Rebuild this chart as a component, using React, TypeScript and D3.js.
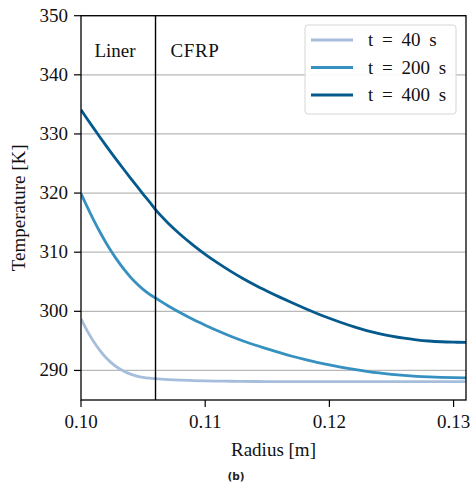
import React from "react";
import * as d3 from "d3";

const radius = [
  0.1, 0.1005, 0.101, 0.1015, 0.102, 0.1025, 0.103, 0.1035, 0.104, 0.1045, 0.105, 0.1055, 0.106,
  0.107, 0.108, 0.109, 0.11, 0.111, 0.112, 0.113, 0.114, 0.115, 0.116, 0.117, 0.118, 0.119, 0.12,
  0.121, 0.122, 0.123, 0.124, 0.125, 0.126, 0.127, 0.128, 0.129, 0.13, 0.131,
];

const temp40 = [
  298.7, 296.7, 294.95, 293.45, 292.2, 291.2, 290.42, 289.82, 289.37, 289.05, 288.83, 288.69, 288.6,
  288.46, 288.36, 288.29, 288.24, 288.2, 288.17, 288.15, 288.13, 288.12, 288.11, 288.11, 288.1, 288.1, 288.1,
  288.1, 288.1, 288.1, 288.1, 288.1, 288.1, 288.1, 288.1, 288.1, 288.1, 288.1,
];

const temp200 = [
  319.9, 317.65, 315.5, 313.5, 311.65, 309.95, 308.4, 307.0, 305.75, 304.65, 303.7, 302.9, 302.25,
  300.95, 299.75, 298.65, 297.65, 296.7, 295.82, 295.02, 294.3, 293.65, 293.0, 292.4, 291.86, 291.37, 290.93,
  290.53, 290.17, 289.85, 289.57, 289.34, 289.15, 289.0, 288.9, 288.83, 288.78, 288.75,
];

const temp400 = [
  334.1, 332.54, 331.02, 329.53, 328.07, 326.64, 325.24, 323.86, 322.5, 321.16, 319.84, 318.54, 317.2,
  314.95, 313.0, 311.25, 309.65, 308.2, 306.85, 305.6, 304.45, 303.4, 302.4, 301.44, 300.52, 299.64, 298.82,
  298.06, 297.36, 296.74, 296.22, 295.8, 295.45, 295.18, 294.98, 294.85, 294.78, 294.75,
];

const seriesLabels = ["t = 40 s", "t = 200 s", "t = 400 s"];
const seriesColors = ["#a6bddb", "#3690c0", "#045a8d"];
const xTicks = [0.1, 0.11, 0.12, 0.13];
const yTicks = [290, 300, 310, 320, 330, 340, 350];
const interfaceRadius = 0.106;
const regionLabels = ["Liner", "CFRP"];

const W = 472;
const H = 487;
const m = { left: 81, right: 466, top: 15.7, bottom: 400 };
const FONT = "'Liberation Serif', serif";
const FS = 19;

export default function App() {
  const x = d3.scaleLinear().domain([0.1, 0.131]).range([m.left, m.right]);
  const y = d3.scaleLinear().domain([285, 350]).range([m.bottom, m.top]);
  const all = [temp40, temp200, temp400];
  const line = d3
    .line<number>()
    .x((_, i) => x(radius[i]))
    .y((d) => y(d))
    .curve(d3.curveMonotoneX);

  const xi = x(interfaceRadius);
  const legX = 305;
  const legY = 25;

  return (
    <svg
      width={W}
      height={H}
      style={{ position: "absolute", left: 0, top: 0, background: "#fff" }}
      fontFamily={FONT}
    >
      <rect x={0} y={0} width={W} height={H} fill="#fff" />
      <defs>
        <clipPath id="plot">
          <rect x={m.left} y={m.top} width={m.right - m.left} height={m.bottom - m.top} />
        </clipPath>
      </defs>
      {yTicks.map((t) => (
        <line key={t} x1={m.left} x2={m.right} y1={y(t)} y2={y(t)} stroke="#b8b8b8" strokeWidth={1.2} />
      ))}
      <g clipPath="url(#plot)">
        {all.map((s, i) => (
          <path key={i} d={line(s) || ""} fill="none" stroke={seriesColors[i]} strokeWidth={2.8} />
        ))}
      </g>
      <line x1={xi} x2={xi} y1={m.top} y2={m.bottom} stroke="#000" strokeWidth={1.4} />
      <text x={115} y={57} fontSize={FS} textAnchor="middle" fill="#111">{regionLabels[0]}</text>
      <text x={195} y={57} fontSize={FS} textAnchor="middle" fill="#111" letterSpacing={0.6}>{regionLabels[1]}</text>
      <rect
        x={m.left}
        y={m.top}
        width={m.right - m.left}
        height={m.bottom - m.top}
        fill="none"
        stroke="#000"
        strokeWidth={1.3}
      />
      {yTicks.map((t) => (
        <g key={t}>
          <line x1={m.left - 7} x2={m.left} y1={y(t)} y2={y(t)} stroke="#000" strokeWidth={1.2} />
          <text x={m.left - 13} y={y(t) + 6} fontSize={FS} textAnchor="end" fill="#111">{t}</text>
        </g>
      ))}
      {xTicks.map((t) => (
        <g key={t}>
          <line x1={x(t)} x2={x(t)} y1={m.bottom} y2={m.bottom + 7} stroke="#000" strokeWidth={1.2} />
          <text x={x(t)} y={428} fontSize={FS} textAnchor="middle" fill="#111">{t.toFixed(2)}</text>
        </g>
      ))}
      <text x={(m.left + m.right) / 2} y={456} fontSize={FS} textAnchor="middle" fill="#111">Radius [m]</text>
      <text
        transform={`translate(25, ${(m.top + m.bottom) / 2}) rotate(-90)`}
        fontSize={FS}
        textAnchor="middle"
        fill="#111"
      >
        Temperature [K]
      </text>
      <text x={236} y={480} fontSize={10.5} textAnchor="middle" fontFamily="'DejaVu Sans', sans-serif" fontWeight="bold" fill="#222">(b)</text>
      <rect x={legX} y={legY} width={151} height={89} rx={3} fill="#fff" fillOpacity={0.9} stroke="#d6d6d6" strokeWidth={1} />
      {seriesLabels.map((lab, i) => {
        const ly = 40 + i * 27.5;
        return (
          <g key={lab}>
            <line x1={311} x2={353} y1={ly} y2={ly} stroke={seriesColors[i]} strokeWidth={2.8} />
            <text x={368} y={ly + 6} fontSize={FS} fill="#111" wordSpacing={4}>{lab}</text>
          </g>
        );
      })}
    </svg>
  );
}
